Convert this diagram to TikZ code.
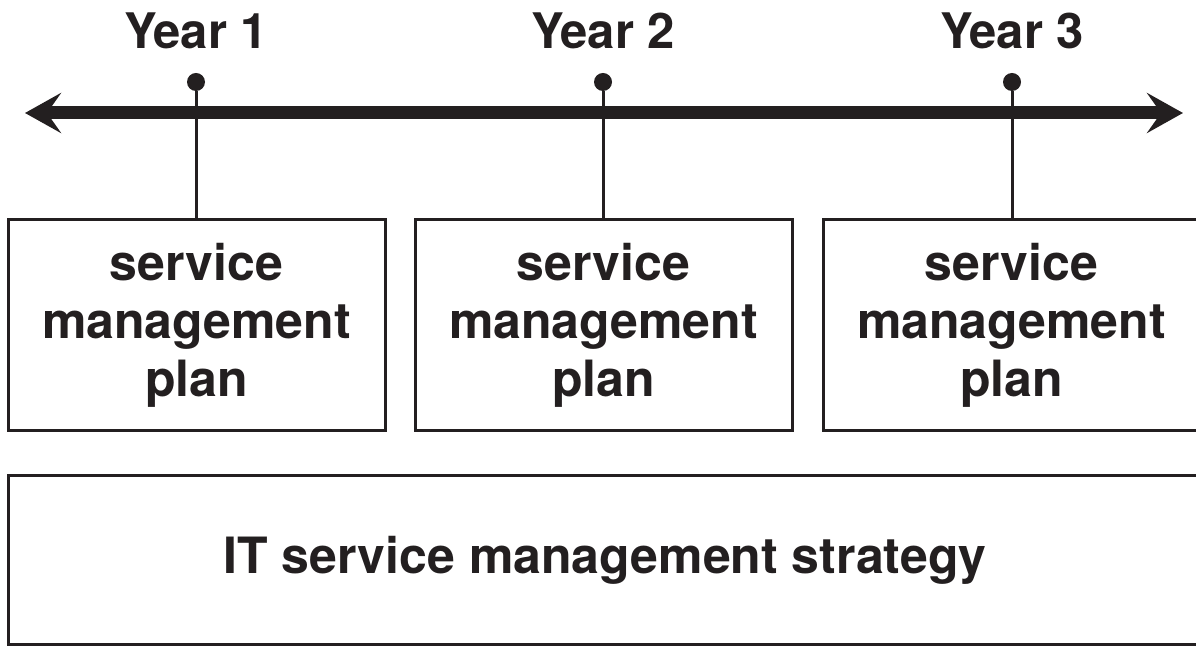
\documentclass[tikz,border=0pt]{standalone}
\usepackage{fontspec}
\setmainfont{TeX Gyre Heros}
\usetikzlibrary{arrows.meta}
\definecolor{ink}{HTML}{231F20}
\begin{document}
\begin{tikzpicture}[x=0.5pt,y=-0.5pt,
	plan/.style={draw=ink,line width=1.5pt,minimum width=188.5pt,minimum height=105.5pt,
		inner sep=0pt,align=center,text=ink,font=\bfseries\fontsize{25}{29}\selectfont},
	yr/.style={anchor=base,text=ink,font=\bfseries\fontsize{24.5}{29}\selectfont},
	pin/.style={circle,fill=ink,inner sep=0pt,minimum size=9pt}]
	\useasboundingbox (0,0) rectangle (1196,646);
	% time line
	\coordinate (tl) at (25,113);
	\coordinate (tr) at (1183,113);
	\draw[ink,line width=6.5pt,{Stealth[length=18pt,width=20pt,inset=7pt]}-{Stealth[length=18pt,width=20pt,inset=7pt]}] (tl) -- (tr);
	% plans
	\node[plan] (plan1) at (196.5,325.5) {service\\management\\plan};
	\node[plan] (plan2) at (603.5,325.5) {service\\management\\plan};
	\node[plan] (plan3) at (1011.5,325.5) {service\\management\\plan};
	\node[pin] (pin1) at (196,82) {};
	\node[pin] (pin2) at (603,82) {};
	\node[pin] (pin3) at (1012,82) {};
	\draw[ink,line width=1.5pt] (pin1) -- (pin1 |- plan1.north) (pin2) -- (pin2 |- plan2.north) (pin3) -- (pin3 |- plan3.north);
	\node[yr] (year1) at (196,49) {Year 1};
	\node[yr] (year2) at (603,49) {Year 2};
	\node[yr] (year3) at (1012,49) {Year 3};
	% strategy
	\node[plan,minimum width=597pt,minimum height=84.5pt] (strategy) at (605,560.5) {IT service management strategy};
\end{tikzpicture}
\end{document}
